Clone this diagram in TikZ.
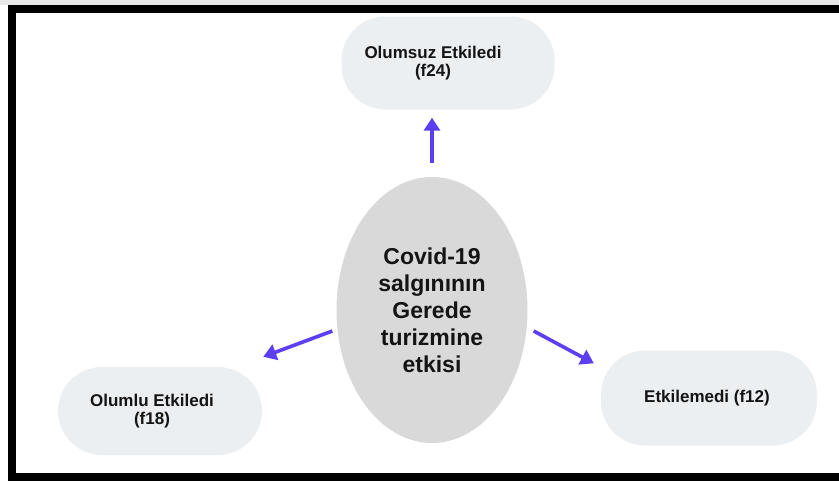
\documentclass[tikz,border=0pt]{standalone}
\usepackage{fontspec}
\setmainfont{Liberation Sans}
\usepackage{tikz}
\usetikzlibrary{arrows.meta, positioning, calc, shapes.geometric}
\definecolor{pillgray}{HTML}{ECEFF1}
\definecolor{ovalgray}{HTML}{D9D9D9}
\definecolor{arrowblue}{HTML}{5B40F2}
\definecolor{inkblack}{HTML}{141414}

\begin{document}
\begin{tikzpicture}[x=1pt, y=-1pt,
    pill/.style={draw=none, fill=pillgray, rounded corners=44pt, inner sep=0pt},
    pilltext/.style={font=\bfseries\fontsize{17}{18}\selectfont, text=inkblack, align=center},
    arr/.style={line width=3.6pt, arrowblue, -{Triangle[length=13pt, width=16pt]}}]
  \useasboundingbox (0,0) rectangle (839,480);
  \clip (0,0) rectangle (839,480);
  \fill[white] (0,0) rectangle (839,480);
  \fill[gray!18] (0,0) rectangle (839,5);
  \draw[line width=8pt] (12,9) rectangle (870,477);

  % middle
  \node[ellipse, fill=ovalgray, minimum width=191pt, minimum height=266pt, inner sep=0pt,
        font=\bfseries\fontsize{23}{27}\selectfont, text=inkblack, align=center]
        (covid) at (432,310) {Covid-19\\salgınının\\Gerede\\turizmine\\etkisi};

  % outcomes
  \node[pill, minimum width=213pt, minimum height=93pt,
        label={[pilltext, xshift=-15pt]center:Olumsuz Etkiledi\\(f24)}] (olumsuz) at (448,63) {};
  \node[pill, minimum width=204pt, minimum height=88pt,
        label={[pilltext, xshift=-8pt]center:Olumlu Etkiledi\\(f18)}] (olumlu) at (160,411) {};
  \node[pill, minimum width=216pt, minimum height=95pt,
        label={[pilltext, xshift=-2pt]center:Etkilemedi (f12)}] (etkilemedi) at (709,398) {};

  \draw[arr] ([shift={(0,-14)}]covid.north) -- ([shift={(-16,8)}]olumsuz.south);
  \draw[arr] ([shift={(-4,21)}]covid.west) -- ([shift={(1,-10)}]olumlu.north east);
  \draw[arr] ([shift={(6,21)}]covid.east) -- ([shift={(-7,13)}]etkilemedi.north west);
\end{tikzpicture}
\end{document}
